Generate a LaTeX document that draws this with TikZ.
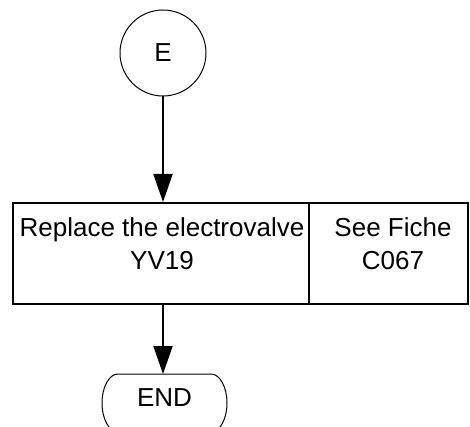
\documentclass[tikz,border=0pt]{standalone}
\usepackage{fontspec}
\setmainfont{Liberation Sans}
\usetikzlibrary{arrows.meta}
\begin{document}
\begin{tikzpicture}[x=1pt,y=-1pt,
  every node/.style={font=\fontsize{26}{33}\selectfont},
  flow/.style={-{Triangle[length=28pt,width=19pt]},line width=2pt},
  boxcell/.style={draw=black,line width=2pt,inner sep=0pt},
  connector/.style={circle,draw=black,line width=1pt,minimum size=86pt,inner sep=0pt},
  outline/.style={draw=black,line width=1pt},
  txt/.style={align=center,inner sep=0pt}]
\path[use as bounding box] (0,0) rectangle (470,427);
\clip (0,0) rectangle (470,427);
\node[connector] (E) at (163,53) {E};
\node[boxcell,minimum width=296pt,minimum height=101pt] (task) at (161,253.5) {};
\node[boxcell,minimum width=159pt,minimum height=101pt] (ref) at (388.5,253.5) {};
\node[txt] (tasktxt) at (162,243.5) {Replace the electrovalve\\YV19};
\node[txt] (reftxt) at (393,243.5) {See Fiche\\C067};
\node[txt] (end) at (164.5,398) {END};
\coordinate (endtop) at (163,374);
\draw[outline] (118,374) -- (211,374)
  arc[start angle=-90,end angle=90,x radius=16,y radius=29]
  -- (118,432)
  arc[start angle=90,end angle=270,x radius=16,y radius=29] -- cycle;
\draw[flow] (E.south) -- (E.south |- task.north);
\draw[flow] (E.south |- task.south) -- (endtop);
\end{tikzpicture}
\end{document}
